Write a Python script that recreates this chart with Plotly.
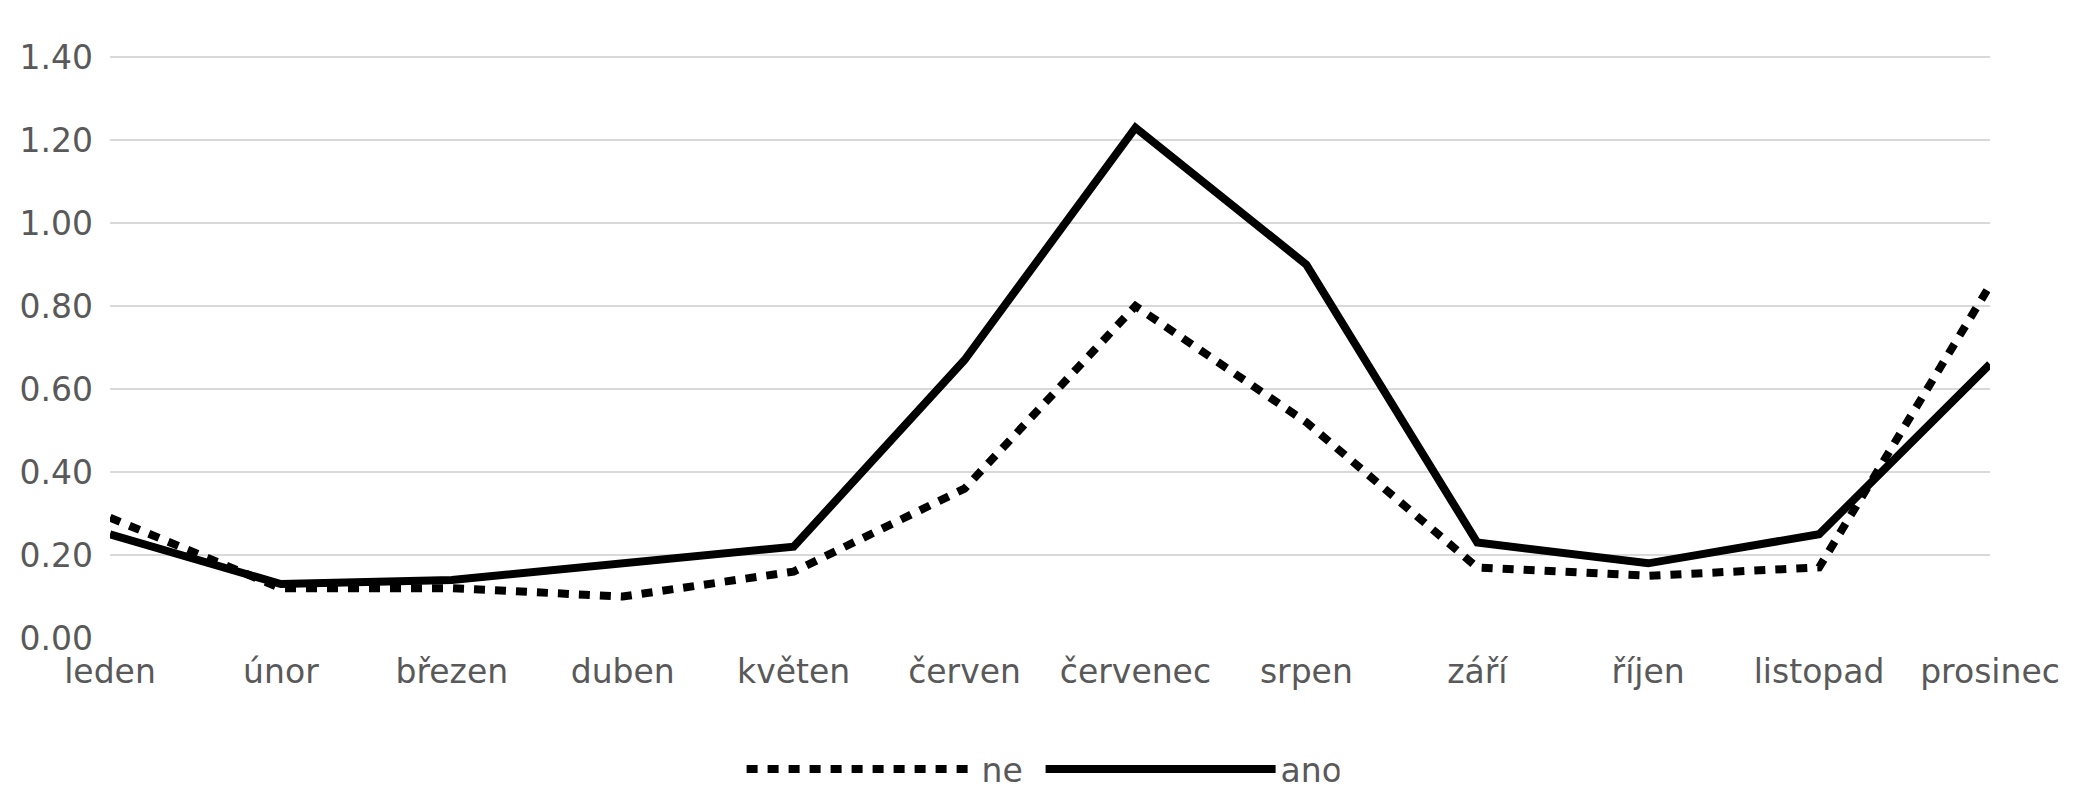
import plotly.graph_objects as go

months = ['leden', 'únor', 'březen', 'duben', 'květen', 'červen',
          'červenec', 'srpen', 'září', 'říjen', 'listopad', 'prosinec']
ne_vals = [0.29, 0.12, 0.12, 0.10, 0.16, 0.36, 0.80, 0.52, 0.17, 0.15, 0.17, 0.85]
ano_vals = [0.25, 0.13, 0.14, 0.18, 0.22, 0.67, 1.23, 0.90, 0.23, 0.18, 0.25, 0.66]
y_ticks = [0, 0.2, 0.4, 0.6, 0.8, 1.0, 1.2, 1.4]

text_col = '#595959'
font_name = 'DejaVu Sans'

fig = go.Figure()
fig.add_trace(go.Scatter(
    x=months, y=ne_vals, name='ne', mode='lines',
    line=dict(color='black', width=8, dash='11px,10px'),
))
fig.add_trace(go.Scatter(
    x=months, y=ano_vals, name='ano', mode='lines',
    line=dict(color='black', width=8),
))

# page body has an 8px margin, so the figure is a bit smaller than the window
fig.update_layout(
    width=2077, height=792,
    margin=dict(l=67, r=95, t=45, b=162),
    paper_bgcolor='white', plot_bgcolor='white',
    font=dict(family=font_name, size=33, color=text_col),
    showlegend=True,
    legend=dict(
        orientation='h', x=0.495, xanchor='center',
        yref='container', y=0.039, yanchor='middle',
        itemwidth=230, entrywidth=54, font=dict(size=33, color=text_col),
    ),
    xaxis=dict(
        type='category', range=[0, 11], showgrid=False, zeroline=False,
        showline=False, ticks='', ticklabelstandoff=11,
    ),
    yaxis=dict(
        range=[0, 1.41], tickvals=y_ticks, tickformat='.2f',
        showgrid=True, gridcolor='#d9d9d9', gridwidth=2,
        zeroline=False, showline=False, ticks='', ticklabelstandoff=16,
    ),
)

fig.write_html('out.html')
